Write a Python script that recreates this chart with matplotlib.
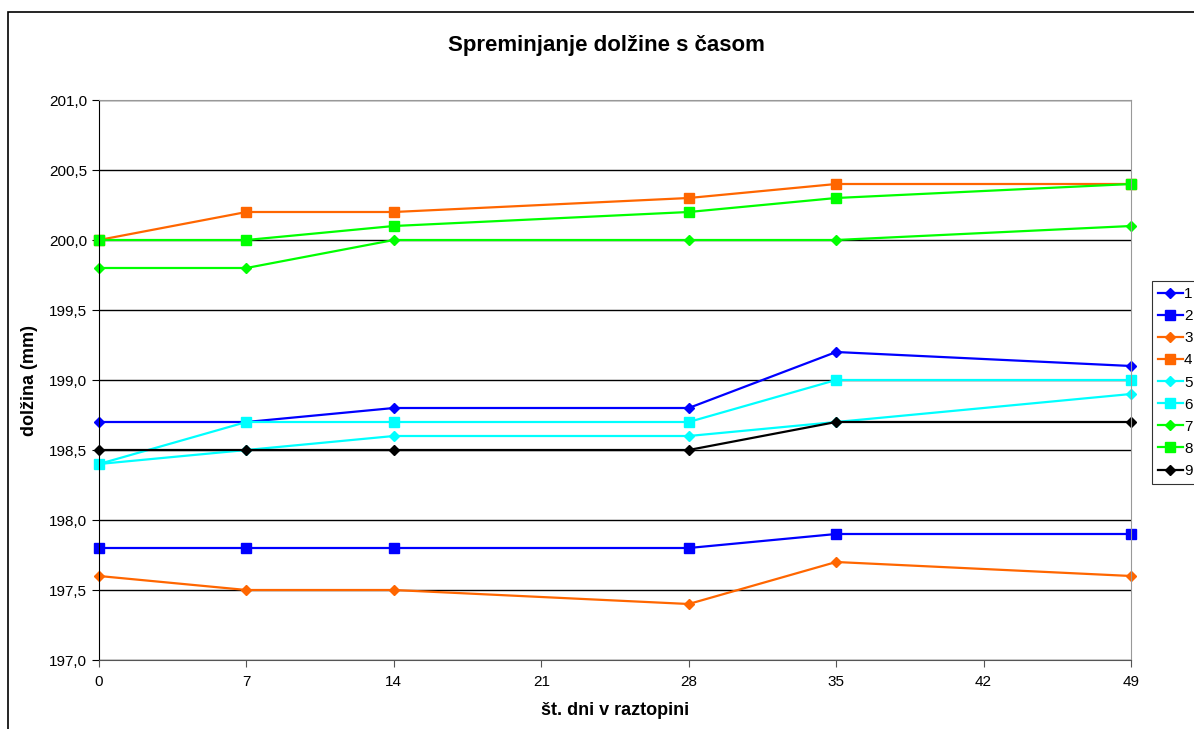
import matplotlib
matplotlib.use('Agg')
import matplotlib.pyplot as plt
import matplotlib.patches as patches
from matplotlib.ticker import MultipleLocator, FuncFormatter

plt.rcParams['font.family'] = ['Liberation Sans', 'DejaVu Sans']

# dnevi meritev
days = [0, 7, 14, 28, 35, 49]

# dolžina vzorcev (mm)
s1 = [198.7, 198.7, 198.8, 198.8, 199.2, 199.1]
s2 = [197.8, 197.8, 197.8, 197.8, 197.9, 197.9]
s3 = [197.6, 197.5, 197.5, 197.4, 197.7, 197.6]
s4 = [200.0, 200.2, 200.2, 200.3, 200.4, 200.4]
s5 = [198.4, 198.5, 198.6, 198.6, 198.7, 198.9]
s6 = [198.4, 198.7, 198.7, 198.7, 199.0, 199.0]
s7 = [199.8, 199.8, 200.0, 200.0, 200.0, 200.1]
s8 = [200.0, 200.0, 200.1, 200.2, 200.3, 200.4]
s9 = [198.5, 198.5, 198.5, 198.5, 198.7, 198.7]
labels = ['1', '2', '3', '4', '5', '6', '7', '8', '9']

series = [
    (s1, '#0000FF', 'D'),
    (s2, '#0000FF', 's'),
    (s3, '#FF6600', 'D'),
    (s4, '#FF6600', 's'),
    (s5, '#00FFFF', 'D'),
    (s6, '#00FFFF', 's'),
    (s7, '#00FF00', 'D'),
    (s8, '#00FF00', 's'),
    (s9, '#000000', 'D'),
]

fig = plt.figure(figsize=(11.94, 7.29), dpi=100)
ax = fig.add_axes([99 / 1194, 1 - 660 / 729, (1131 - 99) / 1194, (660 - 100) / 729])

# okvir grafikona
frame = patches.Rectangle((8 / 1194, -0.1), 1.2, 1 - 12 / 729 + 0.1,
                          transform=fig.transFigure, fill=False,
                          edgecolor='black', linewidth=1.2, clip_on=False)
fig.add_artist(frame)

ax.set_xlim(0, 49)
ax.set_ylim(197.0, 201.0)
ax.xaxis.set_major_locator(MultipleLocator(7))
ax.yaxis.set_major_locator(MultipleLocator(0.5))
ax.yaxis.set_major_formatter(FuncFormatter(lambda v, p: f'{v:.1f}'.replace('.', ',')))
ax.grid(axis='y', color='black', linewidth=1)
ax.set_axisbelow(True)

for (vals, col, mk), lab in zip(series, labels):
    ms = 6.5 if mk == 's' else 5.5
    ax.plot(days, vals, color=col, marker=mk, markersize=ms,
            linewidth=1.6, label=lab, clip_on=False)

ax.spines['top'].set_color('#999999')
ax.spines['right'].set_color('#999999')
ax.spines['bottom'].set_color('#555555')
ax.spines['left'].set_color('black')
ax.tick_params(axis='both', labelsize=11, direction='out', length=5)
ax.tick_params(axis='x', color='#555555', pad=6)

ax.set_xlabel('št. dni v raztopini', fontsize=13, fontweight='bold', labelpad=9)
ax.set_ylabel('dolžina (mm)', fontsize=13, fontweight='bold', labelpad=8)
fig.text(606 / 1194, 1 - 45 / 729, 'Spreminjanje dolžine s časom',
         ha='center', va='center', fontsize=16, fontweight='bold')

leg = fig.legend(loc='upper left', bbox_to_anchor=(1152 / 1194, 1 - 281 / 729),
                 fontsize=11, frameon=True, fancybox=False, edgecolor='black',
                 handlelength=1.6, labelspacing=0.53, borderpad=0.4,
                 handletextpad=0.1, borderaxespad=0)
leg.get_frame().set_linewidth(0.8)

fig.savefig('out.png', dpi=100)
